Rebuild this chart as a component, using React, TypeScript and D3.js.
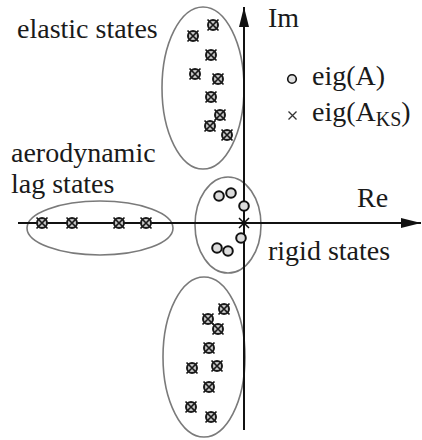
import * as d3 from 'd3';

// pole locations in the complex plane (Re, Im)
const elasticRe = [-3.1, -5.1, -3.3, -4.9, -2.6, -3.3, -2.4, -3.4, -1.7];
const elasticIm = [19.8, 18.7, 16.8, 14.9, 14.4, 12.6, 10.8, 9.7, 8.8];
const lowerRe = [-2.0, -3.6, -2.6, -3.5, -2.7, -5.2, -3.5, -5.3, -3.3];
const lowerIm = [-8.6, -9.6, -10.6, -12.5, -14.3, -14.5, -16.4, -18.4, -19.4];
const lagRe = [-20.2, -17.2, -12.5, -9.8];
const lagIm = [0, 0, 0, 0];
const rigidRe = [-2.5, -1.3, 0.0, -0.3, -2.7, -1.6];
const rigidIm = [2.7, 3.0, 1.7, -1.5, -2.5, -2.8];
const ksOnlyRe = [0];
const ksOnlyIm = [0];

// grouping ellipses: [centerRe, centerIm, radiusRe, radiusIm]
const groups = [
  [-4.1, 13.5, 4.1, 8.1],
  [-4.0, -13.4, 4.1, 8.0],
  [-1.6, -0.2, 3.3, 4.8],
  [-14.4, -0.5, 7.3, 2.7],
];

// labels: text, x, baseline
const labels: [string, number, number][] = [
  ['elastic states', 17, 38],
  ['Im', 268, 27],
  ['aerodynamic', 11, 162],
  ['lag states', 11, 193],
  ['Re', 357, 207],
  ['rigid states', 268, 260],
  ['eig(A)', 312, 85],
];

const W = 422;
const H = 440;

const x = d3.scaleLinear().domain([-24.4, 17.8]).range([0, W]);
const y = d3.scaleLinear().domain([22.3, -21.7]).range([0, H]);

const zip = (a: number[], b: number[]) => a.map((v, i) => [v, b[i]]);

const font = "'Liberation Serif', 'DejaVu Serif', serif";

const CrossCircle = ({ px, py }: { px: number; py: number }) => (
  <g transform={`translate(${px},${py})`}>
    <circle r={5} fill="#c8c8c8" stroke="#1a1a1a" strokeWidth={2} />
    <path d="M-5.5,-5.5L5.5,5.5M-5.5,5.5L5.5,-5.5" stroke="#1a1a1a" strokeWidth={1.7} />
  </g>
);

export default function App() {
  const x0 = x(0);
  const y0 = y(0);
  const crossed = [...zip(elasticRe, elasticIm), ...zip(lowerRe, lowerIm), ...zip(lagRe, lagIm)];
  const line = d3.line();

  return (
    <svg width={W} height={H} style={{ position: 'absolute', left: 0, top: 0, background: '#fff' }}>
      <defs>
        <marker id="arr" viewBox="0 0 20 10" refX={20} refY={5} markerWidth={20} markerHeight={10} markerUnits="userSpaceOnUse" orient="auto">
          <path d="M0,0L20,5L0,10Z" fill="#111" />
        </marker>
      </defs>

      {groups.map((g, i) => (
        <ellipse
          key={i}
          cx={x(g[0])}
          cy={y(g[1])}
          rx={x(g[2]) - x(0)}
          ry={y(0) - y(g[3])}
          fill="none"
          stroke="#7a7a7a"
          strokeWidth={1.6}
        />
      ))}

      {/* axes */}
      <path d={line([[18, y0], [421, y0]]) || ''} stroke="#111" strokeWidth={2} markerEnd="url(#arr)" />
      <path d={line([[x0, 430], [x0, 7]]) || ''} stroke="#111" strokeWidth={2} markerEnd="url(#arr)" />

      {crossed.map((d, i) => (
        <CrossCircle key={i} px={x(d[0])} py={y(d[1])} />
      ))}

      {zip(rigidRe, rigidIm).map((d, i) => (
        <circle key={i} cx={x(d[0])} cy={y(d[1])} r={4.8} fill="#dcdcdc" stroke="#111" strokeWidth={2} />
      ))}
      {zip(ksOnlyRe, ksOnlyIm).map((d, i) => (
        <path key={i} transform={`translate(${x(d[0])},${y(d[1])})`} d="M-5,-5L5,5M-5,5L5,-5" stroke="#111" strokeWidth={1.5} />
      ))}

      <g style={{ fontFamily: font, fontSize: '28px', fill: '#1a1a1a' }}>
        {labels.map(([t, lx, ly]) => (
          <text key={t} x={lx} y={ly}>{t}</text>
        ))}
        <text x={312} y={121}>
          eig(A<tspan style={{ fontSize: '20px' }} dy={5}>KS</tspan>
          <tspan dy={-5}>)</tspan>
        </text>
      </g>

      {/* legend symbols */}
      <circle cx={292} cy={79} r={4.3} fill="#e0e0e0" stroke="#111" strokeWidth={1.6} />
      <path d="M288.5,111.5L296.5,119.5M288.5,119.5L296.5,111.5" stroke="#333" strokeWidth={1.3} />
    </svg>
  );
}
